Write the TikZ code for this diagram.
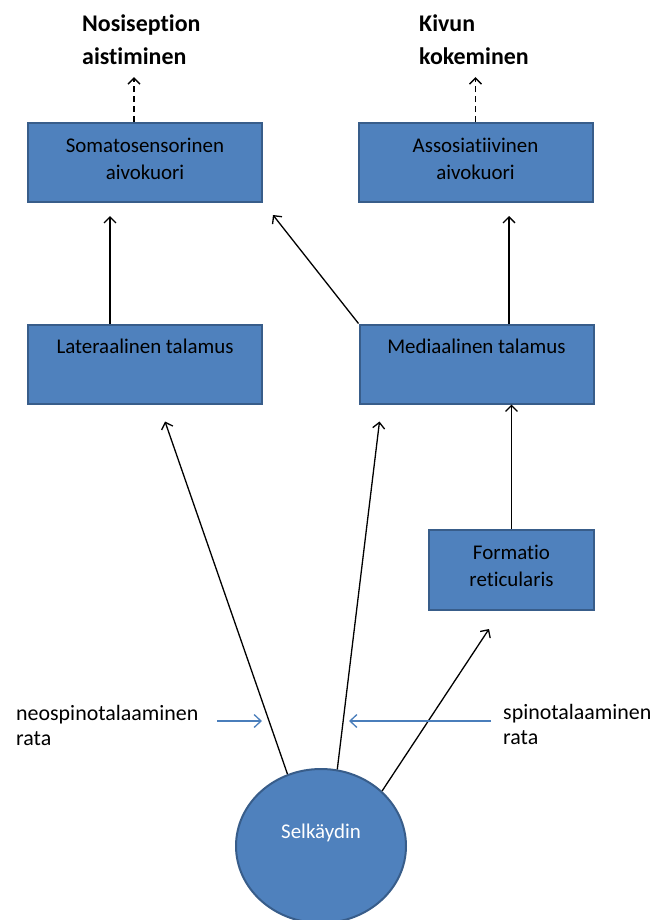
\documentclass[tikz,border=0pt]{standalone}
\usepackage{fontspec}
\setmainfont{Carlito}[Ligatures=NoCommon]
\usepackage{xcolor}
\usetikzlibrary{arrows.meta}
\usetikzlibrary{calc}
\usetikzlibrary{shapes.geometric}

\definecolor{boxfill}{HTML}{4F81BD}
\definecolor{boxedge}{HTML}{385D8A}
\definecolor{ratablue}{HTML}{4A7EBB}

\tikzset{
  area/.style={draw=boxedge, fill=boxfill, line width=2bp, inner sep=0pt,
    minimum width=234bp, minimum height=79bp, align=center, text depth=8bp,
    text=black, font=\fontsize{21}{27}\selectfont},
  cordnode/.style={ellipse, draw=boxedge, fill=boxfill, line width=2bp, inner sep=0pt,
    minimum width=170bp, minimum height=154bp, text depth=29bp,
    text=white, font=\fontsize{21}{27}\selectfont},
  goal/.style={align=left, inner sep=0pt, font=\fontsize{24}{33}\selectfont\bfseries},
  side/.style={align=left, inner sep=0pt, font=\fontsize{22}{25}\selectfont},
  nerve/.style={line width=1.3bp, -{Straight Barb[length=6bp,width=12bp]}},
  sense/.style={nerve, dashed, dash pattern=on 6bp off 4bp},
  rata/.style={draw=ratablue, line width=1.3bp, -{Straight Barb[length=7bp,width=13bp]}}
}

\begin{document}
\begin{tikzpicture}[x=1bp, y=-1bp]
  \useasboundingbox (0,0) rectangle (651,920);

  % boxes
  \node[area] (somato) at (145,162.5) {Somatosensorinen\\aivokuori};
  \node[area] (assoc) at (475.5,162.5) {Assosiatiivinen\\aivokuori};
  \node[area] (lateral) at (145,364) {Lateraalinen talamus\\\mbox{}};
  \node[area] (medial) at (476.5,364) {Mediaalinen talamus\\\mbox{}};
  \node[area, minimum width=165bp, minimum height=80bp] (formatio) at (511.5,570) {Formatio\\reticularis};
  \node[cordnode] (cord) at (321,846) {Selkäydin};

  % labels
  \node[goal, anchor=north west] (aisti) at (82,15) {Nosiseption\\aistiminen};
  \node[goal, anchor=north west] (koke) at (419,15) {Kivun\\kokeminen};
  \node[side, anchor=north west] (neo) at (16,705) {neospinotalaaminen\\rata};
  \node[side, anchor=north west] (spino) at (503,704) {spinotalaaminen\\rata};

  % dashed
  \draw[sense, shorten >=12bp] ([xshift=-11bp]somato.north) -- ([xshift=-11bp]somato.north |- aisti.south);
  \draw[sense, shorten >=12bp] (assoc.north) -- (assoc.north |- koke.south);

  % upwards
  \draw[nerve, shorten >=13bp] ([xshift=-35bp]lateral.north) -- ([xshift=-35bp]lateral.north |- somato.south);
  \draw[nerve, shorten >=13bp] ([xshift=32.5bp]medial.north) -- ([xshift=32.5bp]medial.north |- assoc.south);
  \draw[nerve] (medial.north west) -- ($(somato.south east)+(10,12)$);
  \draw[nerve] (formatio.north) -- (formatio.north |- medial.south);

  % from cord
  \draw[nerve] (cord.115) -- ($(lateral.south)+(20,17)$);
  \draw[nerve] (cord.78) -- ($(medial.south west)+(21,17)$);
  \draw[nerve] (cord.42) -- ($(formatio.south west)+(61,18)$);

  % rata arrows
  \coordinate (neofrom) at (217,721);
  \coordinate (neotip) at (262,721);
  \coordinate (spinofrom) at (491,721);
  \coordinate (spinotip) at (349,721);
  \draw[rata] (neofrom) -- (neotip);
  \draw[rata] (spinofrom) -- (spinotip);
\end{tikzpicture}
\end{document}
